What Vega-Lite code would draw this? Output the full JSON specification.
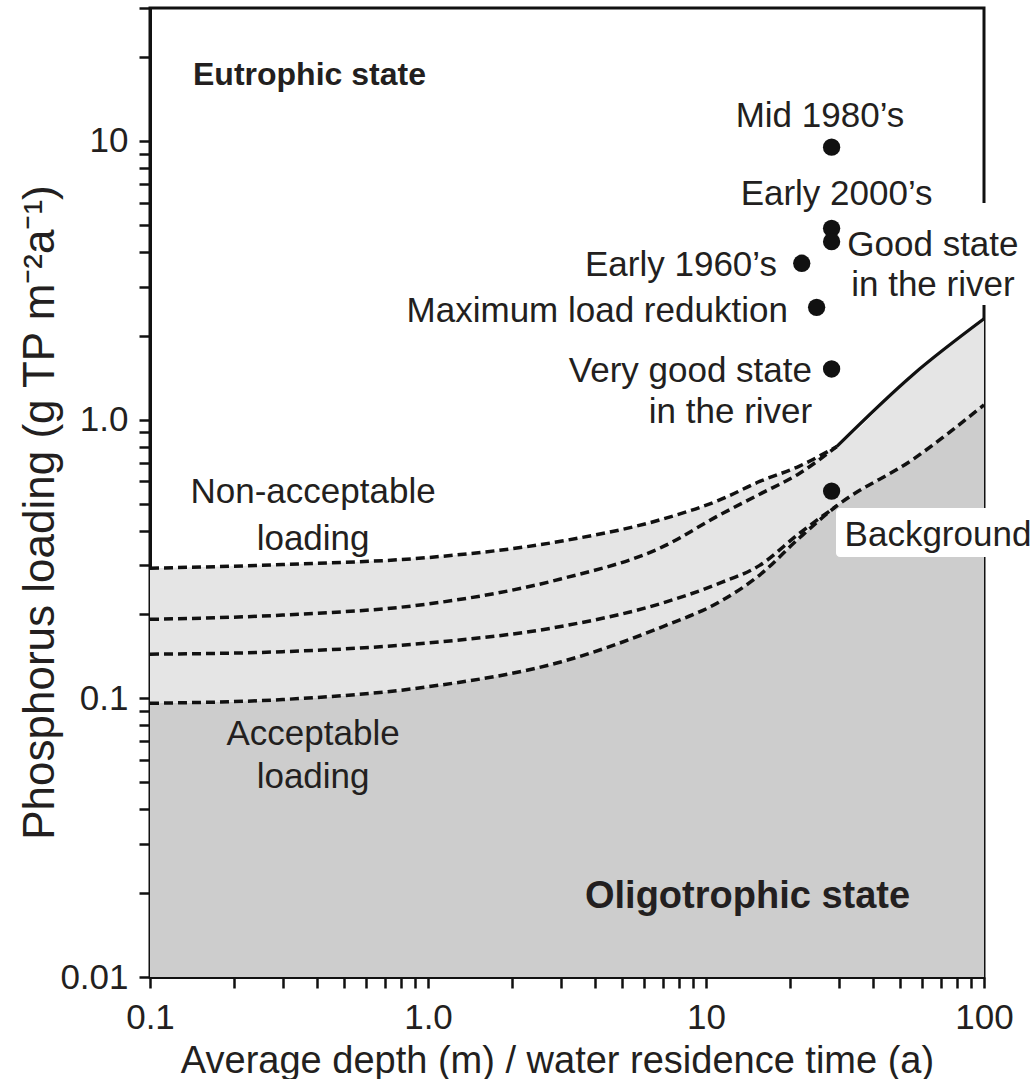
{
  "$schema": "https://vega.github.io/schema/vega-lite/v6.json",
  "width": 834,
  "height": 969,
  "autosize": {"type": "none"},
  "padding": {"left": 150, "top": 8, "right": 52, "bottom": 102},
  "background": "white",
  "config": {
    "font": "Liberation Sans",
    "view": {"stroke": "#111111", "strokeWidth": 3},
    "axis": {
      "grid": false,
      "domainColor": "#111111",
      "domainWidth": 3,
      "tickColor": "#111111",
      "tickWidth": 2.5,
      "tickSize": 11,
      "labelFont": "Liberation Sans",
      "labelFontSize": 35,
      "labelColor": "#231f20",
      "labelOverlap": false,
      "labelFlush": false,
      "titleFont": "Liberation Sans",
      "titleFontWeight": "normal",
      "titleColor": "#231f20",
      "zindex": 1
    }
  },
  "datasets": {
    "curves": [
      {"x": 0.1, "a": 0.293, "b": 0.192, "c": 0.144, "d": 0.096},
      {"x": 0.3, "a": 0.302, "b": 0.199, "c": 0.147, "d": 0.099},
      {"x": 1.0, "a": 0.32, "b": 0.218, "c": 0.158, "d": 0.11},
      {"x": 3.0, "a": 0.366, "b": 0.268, "c": 0.181, "d": 0.135},
      {"x": 7.0, "a": 0.44, "b": 0.35, "c": 0.22, "d": 0.181},
      {"x": 11.2, "a": 0.515, "b": 0.455, "c": 0.259, "d": 0.222},
      {"x": 15.6, "a": 0.6, "b": 0.54, "c": 0.3, "d": 0.277},
      {"x": 21.6, "a": 0.68, "b": 0.64, "c": 0.39, "d": 0.375},
      {"x": 29.5, "a": 0.8, "b": 0.8, "c": 0.49, "d": 0.49},
      {"x": 55.5, "a": 1.45, "b": 1.45, "c": 0.72, "d": 0.72},
      {"x": 100, "a": 2.3, "b": 2.3, "c": 1.13, "d": 1.13}
    ],
    "periods": [
      {"period": "Mid 1980’s", "x": 28.3, "load": 9.5},
      {"period": "Early 2000’s", "x": 28.3, "load": 4.86},
      {"period": "Good state in the river", "x": 28.3, "load": 4.35},
      {"period": "Early 1960’s", "x": 22.1, "load": 3.64},
      {"period": "Maximum load reduktion", "x": 25.0, "load": 2.53},
      {"period": "Very good state in the river", "x": 28.3, "load": 1.52},
      {"period": "Background", "x": 28.3, "load": 0.554}
    ],
    "labelBoxes": [
      {"box": "Good state in the river", "x0": 31.6, "x1": 154, "y0": 2.58, "y1": 5.99},
      {"box": "Background", "x0": 29.35, "x1": 154, "y0": 0.3214, "y1": 0.4817}
    ]
  },
  "layer": [
    {
      "data": {"name": "curves"},
      "mark": {"type": "area", "interpolate": "monotone", "color": "#cdcdcd"},
      "encoding": {
        "x": {
          "field": "x", "type": "quantitative",
          "scale": {"type": "log", "domain": [0.1, 100]},
          "title": "Average depth (m) / water residence time (a)",
          "axis": {
            "values": [0.1, 0.2, 0.3, 0.4, 0.5, 0.6, 0.7, 0.8, 0.9, 1, 2, 3, 4, 5, 6, 7, 8, 9, 10, 20, 30, 40, 50, 60, 70, 80, 90, 100],
            "labelExpr": "datum.value == 0.1 ? '0.1' : datum.value == 1 ? '1.0' : datum.value == 10 ? '10' : datum.value == 100 ? '100' : ''",
            "labelPadding": 12,
            "titleFontSize": 38,
            "titleBaseline": "alphabetic",
            "titleAlign": "center",
            "titleX": 407,
            "titleY": 95
          }
        },
        "y": {
          "field": "d", "type": "quantitative",
          "scale": {"type": "log", "domain": [0.01, 30]},
          "title": "Phosphorus loading (g TP m⁻²a⁻¹)",
          "axis": {
            "values": [0.01, 0.02, 0.03, 0.04, 0.05, 0.06, 0.07, 0.08, 0.09, 0.1, 0.2, 0.3, 0.4, 0.5, 0.6, 0.7, 0.8, 0.9, 1, 2, 3, 4, 5, 6, 7, 8, 9, 10, 20, 30],
            "labelExpr": "datum.value == 0.01 ? '0.01' : datum.value == 0.1 ? '0.1' : datum.value == 1 ? '1.0' : datum.value == 10 ? '10' : ''",
            "labelPadding": 11,
            "titleFontSize": 44,
            "titleAngle": -90,
            "titleBaseline": "alphabetic",
            "titleAlign": "center",
            "titleX": -97,
            "titleY": 504
          }
        },
        "y2": {"datum": 0.01}
      }
    },
    {
      "data": {"name": "curves"},
      "mark": {"type": "area", "interpolate": "monotone", "color": "#e5e5e5"},
      "encoding": {
        "x": {"field": "x", "type": "quantitative", "scale": {"type": "log", "domain": [0.1, 100]}},
        "y": {"field": "a", "type": "quantitative", "scale": {"type": "log", "domain": [0.01, 30]}},
        "y2": {"field": "d"}
      }
    },
    {
      "data": {"name": "curves"},
      "transform": [{"filter": "datum.x <= 29.5"}],
      "mark": {"type": "line", "interpolate": "monotone", "color": "#111111", "strokeWidth": 3.5, "strokeDash": [9, 5]},
      "encoding": {
        "x": {"field": "x", "type": "quantitative", "scale": {"type": "log", "domain": [0.1, 100]}},
        "y": {"field": "a", "type": "quantitative", "scale": {"type": "log", "domain": [0.01, 30]}}
      }
    },
    {
      "data": {"name": "curves"},
      "transform": [{"filter": "datum.x >= 29.5"}],
      "mark": {"type": "line", "interpolate": "monotone", "color": "#111111", "strokeWidth": 3.2},
      "encoding": {
        "x": {"field": "x", "type": "quantitative", "scale": {"type": "log", "domain": [0.1, 100]}},
        "y": {"field": "a", "type": "quantitative", "scale": {"type": "log", "domain": [0.01, 30]}}
      }
    },
    {
      "data": {"name": "curves"},
      "transform": [{"filter": "datum.x <= 29.5"}],
      "mark": {"type": "line", "interpolate": "monotone", "color": "#111111", "strokeWidth": 3.5, "strokeDash": [9, 5]},
      "encoding": {
        "x": {"field": "x", "type": "quantitative", "scale": {"type": "log", "domain": [0.1, 100]}},
        "y": {"field": "b", "type": "quantitative", "scale": {"type": "log", "domain": [0.01, 30]}}
      }
    },
    {
      "data": {"name": "curves"},
      "transform": [{"filter": "datum.x <= 29.5"}],
      "mark": {"type": "line", "interpolate": "monotone", "color": "#111111", "strokeWidth": 3.5, "strokeDash": [9, 5]},
      "encoding": {
        "x": {"field": "x", "type": "quantitative", "scale": {"type": "log", "domain": [0.1, 100]}},
        "y": {"field": "c", "type": "quantitative", "scale": {"type": "log", "domain": [0.01, 30]}}
      }
    },
    {
      "data": {"name": "curves"},
      "mark": {"type": "line", "interpolate": "monotone", "color": "#111111", "strokeWidth": 3.5, "strokeDash": [9, 5]},
      "encoding": {
        "x": {"field": "x", "type": "quantitative", "scale": {"type": "log", "domain": [0.1, 100]}},
        "y": {"field": "d", "type": "quantitative", "scale": {"type": "log", "domain": [0.01, 30]}}
      }
    },
    {
      "mark": {"type": "rule", "color": "#111111", "strokeWidth": 3},
      "encoding": {
        "x": {"datum": 100, "type": "quantitative", "scale": {"type": "log", "domain": [0.1, 100]}},
        "y": {"datum": 0.01, "type": "quantitative", "scale": {"type": "log", "domain": [0.01, 30]}},
        "y2": {"datum": 30}
      }
    },
    {
      "data": {"name": "labelBoxes"},
      "mark": {"type": "rect", "fill": "white", "cornerRadius": 4},
      "encoding": {
        "x": {"field": "x0", "type": "quantitative", "scale": {"type": "log", "domain": [0.1, 100]}},
        "x2": {"field": "x1"},
        "y": {"field": "y0", "type": "quantitative", "scale": {"type": "log", "domain": [0.01, 30]}},
        "y2": {"field": "y1"}
      }
    },
    {
      "data": {"name": "periods"},
      "mark": {"type": "point", "filled": true, "shape": "circle", "size": 300, "color": "#111111", "opacity": 1},
      "encoding": {
        "x": {"field": "x", "type": "quantitative", "scale": {"type": "log", "domain": [0.1, 100]}},
        "y": {"field": "load", "type": "quantitative", "scale": {"type": "log", "domain": [0.01, 30]}}
      }
    },
    {
      "data": {"values": [
        {"text": "Mid 1980’s", "x": 25.7, "y": 12.3},
        {"text": "Early 2000’s", "x": 29.5, "y": 6.45},
        {"text": "Good state", "x": 65.5, "y": 4.23},
        {"text": "in the river", "x": 65.5, "y": 3.04},
        {"text": "Background", "x": 68.3, "y": 0.386},
        {"text": "Non-acceptable", "x": 0.386, "y": 0.55},
        {"text": "loading", "x": 0.386, "y": 0.373},
        {"text": "Acceptable", "x": 0.386, "y": 0.0744},
        {"text": "loading", "x": 0.386, "y": 0.0522}
      ]},
      "mark": {"type": "text", "align": "center", "baseline": "middle", "fontSize": 35, "color": "#231f20"},
      "encoding": {
        "x": {"field": "x", "type": "quantitative", "scale": {"type": "log", "domain": [0.1, 100]}},
        "y": {"field": "y", "type": "quantitative", "scale": {"type": "log", "domain": [0.01, 30]}},
        "text": {"field": "text"}
      }
    },
    {
      "data": {"values": [
        {"text": "Early 1960’s", "x": 18.0, "y": 3.59},
        {"text": "Maximum load reduktion", "x": 19.7, "y": 2.45},
        {"text": "Very good state", "x": 24.06, "y": 1.5},
        {"text": "in the river", "x": 24.1, "y": 1.065}
      ]},
      "mark": {"type": "text", "align": "right", "baseline": "middle", "fontSize": 35, "color": "#231f20"},
      "encoding": {
        "x": {"field": "x", "type": "quantitative", "scale": {"type": "log", "domain": [0.1, 100]}},
        "y": {"field": "y", "type": "quantitative", "scale": {"type": "log", "domain": [0.01, 30]}},
        "text": {"field": "text"}
      }
    },
    {
      "data": {"values": [
        {"text": "Eutrophic state", "x": 0.1428, "y": 17.2}
      ]},
      "mark": {"type": "text", "align": "left", "baseline": "middle", "fontSize": 32, "fontWeight": "bold", "color": "#231f20"},
      "encoding": {
        "x": {"field": "x", "type": "quantitative", "scale": {"type": "log", "domain": [0.1, 100]}},
        "y": {"field": "y", "type": "quantitative", "scale": {"type": "log", "domain": [0.01, 30]}},
        "text": {"field": "text"}
      }
    },
    {
      "data": {"values": [
        {"text": "Oligotrophic state", "x": 3.67, "y": 0.01943}
      ]},
      "mark": {"type": "text", "align": "left", "baseline": "middle", "fontSize": 38, "fontWeight": "bold", "color": "#231f20"},
      "encoding": {
        "x": {"field": "x", "type": "quantitative", "scale": {"type": "log", "domain": [0.1, 100]}},
        "y": {"field": "y", "type": "quantitative", "scale": {"type": "log", "domain": [0.01, 30]}},
        "text": {"field": "text"}
      }
    }
  ]
}
